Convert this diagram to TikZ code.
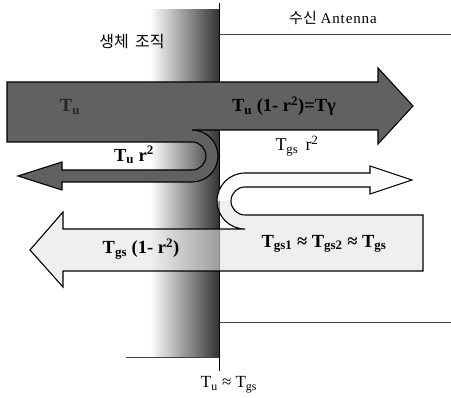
\documentclass[tikz,border=0pt]{standalone}
\usepackage{fontspec}
\setmainfont{Liberation Serif}
\newfontfamily\kr{Noto Sans CJK KR}
\begin{document}
\begin{tikzpicture}[x=1pt,y=1pt,
  lbl/.style={font=\fontsize{18.5}{20}\selectfont\bfseries, inner sep=0pt},
  plain/.style={font=\fontsize{18}{20}\selectfont, inner sep=0pt},
  arrowline/.style={draw=black, line width=1.1pt, line join=miter},
  guide/.style={draw=black!75, line width=0.6pt}]
\useasboundingbox (0,0) rectangle (451,-398);
% tissue gradient
\shade[left color=white, right color=white] (128,-10) rectangle (150,-357);
\shade[left color=white, right color=black!80] (150,-10) rectangle (219,-357);
\draw[guide] (126,-357) -- (219,-357);
% boundary and antenna lines
\coordinate (vt) at (219,-3);
\coordinate (vb) at (219,-371);
\draw[black, line width=0.9pt] (vt) -- (vb);
\coordinate (h1a) at (219,-34); \coordinate (h1b) at (451,-34);
\coordinate (h2a) at (219,-322); \coordinate (h2b) at (451,-322);
\draw[guide] (h1a) -- (h1b);
\draw[guide] (h2a) -- (h2b);
% light (transmitted back) arrow with white U-arrow
\path[fill=black!10, fill opacity=0.6]
  (245,-229) -- (63,-229) -- (63,-212) -- (30,-250) -- (63,-287) -- (63,-271)
  -- (423,-271) -- (423,-215) -- (245,-215) arc (270:90:14)
  -- (370,-187) -- (370,-194) -- (412,-180) -- (370,-166) -- (370,-173)
  -- (245,-173) arc (90:270:28) -- cycle;
\path[fill=white, fill opacity=0.85] (245,-187) -- (370,-187) -- (370,-194) -- (412,-180) -- (370,-166) -- (370,-173) -- (245,-173) arc (90:180:28) -- (231,-201) arc (180:90:14) -- cycle;
\draw[arrowline]
  (245,-229) -- (63,-229) -- (63,-212) -- (30,-250) -- (63,-287) -- (63,-271)
  -- (423,-271) -- (423,-215) -- (245,-215) arc (270:90:14)
  -- (370,-187) -- (370,-194) -- (412,-180) -- (370,-166) -- (370,-173)
  -- (245,-173) arc (90:270:28) -- cycle;
% dark arrow
\path[arrowline, fill=black!62]
  (7,-82) -- (378,-82) -- (378,-68) -- (413,-106) -- (378,-144) -- (378,-130)
  -- (192,-130) arc (90:-90:26) -- (62,-182) -- (62,-190) -- (18,-176)
  -- (62,-162) -- (62,-170) -- (192,-170) arc (-90:90:14) -- (7,-142) -- cycle;
% labels
\node[plain, font=\fontsize{15}{17}\selectfont] (ant) at (333,-18) {{\kr 수신} \addfontfeature{LetterSpace=6}Antenna};
\node[plain, font=\kr\fontsize{16}{18}\selectfont] (tis) at (132,-42) {생체\, 조직};
\node[lbl, text=black!85] (tu) at (70,-107) {T\textsubscript{u}};
\node[lbl] (tr) at (284,-106) {T\textsubscript{u} (1- r\textsuperscript{2})=Tγ};
\node[plain] (tgsr) at (297,-146) {T\textsubscript{gs} \,r\textsuperscript{2}};
\node[lbl] (tur) at (134,-155) {T\textsubscript{u} r\textsuperscript{2}};
\node[lbl] (tgs1) at (141,-249) {T\textsubscript{gs} (1- r\textsuperscript{2})};
\node[lbl] (eq) at (324,-244) {T\textsubscript{gs1} ≈ T\textsubscript{gs2} ≈ T\textsubscript{gs}};
\node[plain, font=\fontsize{17}{19}\selectfont] (bot) at (229,-385) {T\textsubscript{u} ≈ T\textsubscript{gs}};
\end{tikzpicture}
\end{document}
